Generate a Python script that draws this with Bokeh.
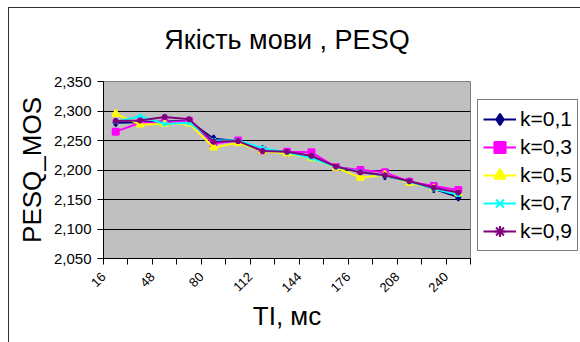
import math
from bokeh.plotting import figure
from bokeh.models import (FixedTicker, CustomJSTickFormatter, Legend, LegendItem,
                          Range1d, ColumnDataSource)
from bokeh.embed import file_html
from bokeh.resources import INLINE

# Packet length TI, ms (category axis)
categories = [16, 32, 48, 64, 80, 96, 112, 128, 144, 160, 176, 192, 208, 224, 240]

# PESQ MOS per coefficient k
k01 = [2.280, 2.281, 2.282, 2.283, 2.253, 2.249, 2.235, 2.230, 2.222, 2.205, 2.198, 2.190, 2.180, 2.168, 2.154]
k03 = [2.265, 2.280, 2.280, 2.283, 2.245, 2.250, 2.233, 2.231, 2.230, 2.205, 2.200, 2.196, 2.180, 2.173, 2.166]
k05 = [2.295, 2.277, 2.278, 2.279, 2.238, 2.246, 2.232, 2.228, 2.220, 2.204, 2.187, 2.192, 2.178, 2.169, 2.160]
k07 = [2.282, 2.291, 2.278, 2.280, 2.250, 2.250, 2.237, 2.230, 2.220, 2.205, 2.197, 2.190, 2.180, 2.168, 2.158]
k09 = [2.283, 2.284, 2.290, 2.286, 2.248, 2.249, 2.232, 2.231, 2.224, 2.206, 2.196, 2.191, 2.181, 2.170, 2.162]

series_names = ["k=0,1", "k=0,3", "k=0,5", "k=0,7", "k=0,9"]
series_values = [k01, k03, k05, k07, k09]

colors = ["#000080", "#FF00FF", "#FFFF00", "#00FFFF", "#800080"]
markers = ["diamond", "square", "triangle", "x", "asterisk"]
msizes = [7, 6, 7, 6, 6]

FONT = "Liberation Sans"

p = figure(frame_width=367, frame_height=177,
           min_border_left=106, min_border_right=140,
           min_border_top=74, min_border_bottom=110,
           x_range=Range1d(0.5, len(categories) + 0.5),
           y_range=Range1d(2.05, 2.35),
           output_backend="svg", toolbar_location=None,
           title="Якість мови , PESQ")

# chart-area frame line along the top and left edges (shows through the
# transparent border fill)
p.styles = {"margin-left": "-3px", "margin-top": "-4px",
            "outline": "1px solid #303030", "outline-offset": "-12px"}

p.background_fill_color = "#C0C0C0"
p.border_fill_alpha = 0.0
p.outline_line_color = "#808080"
p.outline_line_width = 1

p.title.text_font = FONT
p.title.text_font_size = "27px"
p.title.text_font_style = "normal"
p.title.text_color = "black"
p.title.align = "center"
p.title.standoff = 53

# Y axis
p.yaxis.ticker = FixedTicker(ticks=[2.05, 2.10, 2.15, 2.20, 2.25, 2.30, 2.35])
p.yaxis.formatter = CustomJSTickFormatter(code="return tick.toFixed(3).replace('.', ',');")
p.yaxis.axis_label = "PESQ_MOS"
p.yaxis.axis_label_text_font = FONT
p.yaxis.axis_label_text_font_size = "26px"
p.yaxis.axis_label_text_font_style = "normal"
p.yaxis.axis_label_text_color = "black"
p.yaxis.axis_label_standoff = 4
p.yaxis.major_label_text_font = FONT
p.yaxis.major_label_text_font_size = "15px"
p.yaxis.major_label_text_color = "black"
p.yaxis.major_label_standoff = 6
p.yaxis.major_tick_out = 6
p.yaxis.major_tick_in = 0
p.yaxis.minor_tick_out = 0
p.yaxis.minor_tick_in = 0
p.yaxis.axis_line_color = "black"
p.yaxis.major_tick_line_color = "black"

# X axis: tick marks between categories, every other category labelled
p.xaxis.ticker = FixedTicker(ticks=[i + 0.5 for i in range(len(categories) + 1)])
p.xaxis.formatter = CustomJSTickFormatter(
    args=dict(cats=categories),
    code="const i = Math.round(tick - 0.5);"
         "return (i % 2 == 0 && i < cats.length) ? String(cats[i]) : '';")
p.xaxis.major_label_orientation = math.pi / 4
p.xaxis.axis_label = "TI, мс"
p.xaxis.axis_label_text_font = FONT
p.xaxis.axis_label_text_font_size = "26px"
p.xaxis.axis_label_text_font_style = "normal"
p.xaxis.axis_label_text_color = "black"
p.xaxis.axis_label_standoff = 2
p.xaxis.major_label_text_font = FONT
p.xaxis.major_label_text_font_size = "13px"
p.xaxis.major_label_text_color = "black"
p.xaxis.major_label_standoff = 10
p.xaxis.major_tick_out = 6
p.xaxis.major_tick_in = 0
p.xaxis.minor_tick_out = 0
p.xaxis.minor_tick_in = 0
p.xaxis.axis_line_color = "black"
p.xaxis.major_tick_line_color = "black"

p.xgrid.visible = False
p.ygrid.grid_line_color = "black"
p.ygrid.grid_line_width = 1
p.ygrid.grid_line_alpha = 1.0

xpos = [i + 1 for i in range(len(categories))]

items = []
for name, vals, c, m, s in zip(series_names, series_values, colors, markers, msizes):
    src = ColumnDataSource(dict(x=xpos, y=vals))
    ln = p.line("x", "y", source=src, line_color=c, line_width=2)
    mk = p.scatter("x", "y", source=src, marker=m, size=s,
                   fill_color=c, line_color=c, line_width=2)
    items.append(LegendItem(label=name, renderers=[ln, mk]))

legend = Legend(items=items, location=(7, 7))
legend.label_text_font = FONT
legend.label_text_font_size = "21px"
legend.label_text_color = "black"
legend.label_height = 28
legend.glyph_height = 28
legend.glyph_width = 33
legend.label_standoff = 4
legend.padding = 5
legend.spacing = 0
legend.margin = 0
legend.border_line_color = "black"
legend.border_line_width = 1
legend.background_fill_color = "white"
legend.background_fill_alpha = 1.0
p.add_layout(legend, "right")

open("out.html", "w").write(file_html(p, INLINE))
